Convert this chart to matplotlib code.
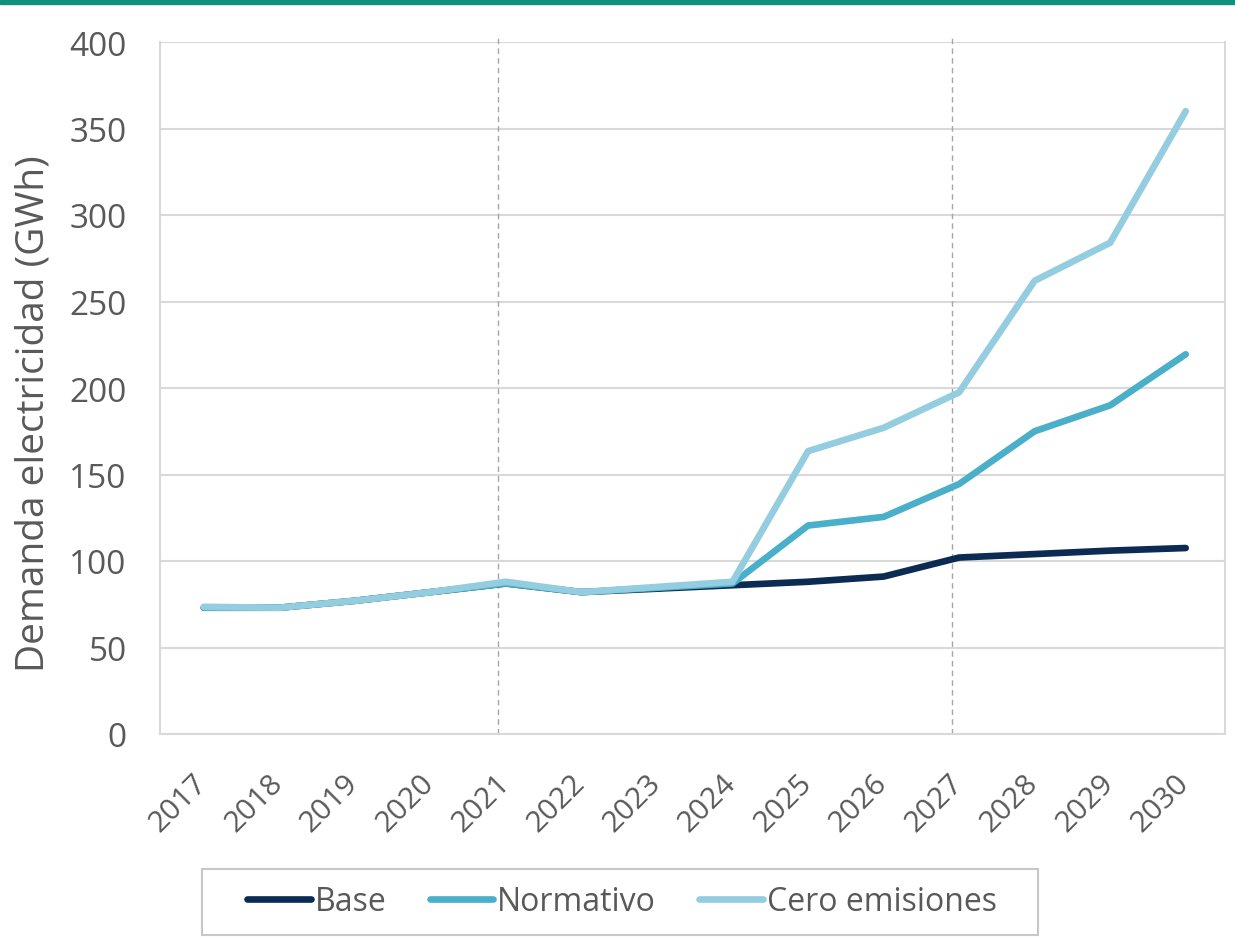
import matplotlib
matplotlib.use("Agg")
import matplotlib.pyplot as plt
from matplotlib.lines import Line2D
import matplotlib.transforms as mtransforms

years = ["2017", "2018", "2019", "2020", "2021", "2022", "2023",
         "2024", "2025", "2026", "2027", "2028", "2029", "2030"]
base = [73, 73, 77, 82, 87, 82, 84, 86, 88, 91, 102, 104, 106, 107.5]
normativo = [73, 73, 77, 82, 87, 82, 84.5, 87, 120.5, 125.5, 144.5, 175, 190, 219.5]
cero = [73.5, 73, 77, 82, 88, 82, 85, 88, 163.5, 177, 197.5, 262, 284, 360]
yticks = [0, 50, 100, 150, 200, 250, 300, 350, 400]
dashed_years = ["2021", "2027"]
labels = ["Base", "Normativo", "Cero emisiones"]

c_base = "#0B2B52"
c_norm = "#4AAFC8"
c_cero = "#93CDDF"
txt = "#595959"
LW = 4.8

plt.rcParams['font.family'] = ['Open Sans', 'DejaVu Sans']

fig = plt.figure(figsize=(12.35, 9.45), dpi=100)
fig.patches.append(plt.Rectangle((0, 1 - 5/945), 1, 5/945, transform=fig.transFigure,
                                 color="#108F7D", zorder=0))
ax = fig.add_axes([160/1235, 1 - 735/945, (1225-160)/1235, (735-43)/945])

x = list(range(len(years)))
for vals, col, z in [(base, c_base, 3), (normativo, c_norm, 4), (cero, c_cero, 5)]:
    ax.plot(x, vals, color=col, lw=LW, solid_capstyle='round',
            solid_joinstyle='round', zorder=z)

for dy in dashed_years:
    ax.axvline(years.index(dy) - 0.1, ymin=0, ymax=1.008, color="#A6A6A6", lw=1.0,
               ls=(0, (4, 3)), zorder=2, clip_on=False)

ax.set_xlim(-0.58, len(years) - 0.48)
ax.set_ylim(0, 400)
ax.set_yticks(yticks)
ax.set_xticks(x)
ax.set_xticklabels(years, rotation=45, ha='right', va='top', rotation_mode='anchor')
ax.yaxis.grid(True, color="#D9D9D9", lw=1.5)
ax.set_axisbelow(True)
ax.tick_params(axis='both', length=0, colors=txt)
ax.tick_params(axis='x', labelsize=21.5, pad=24.5)
ax.tick_params(axis='y', labelsize=24, pad=24)
for s in ['left', 'right', 'bottom']:
    ax.spines[s].set_color("#D9D9D9")
    ax.spines[s].set_linewidth(1.5)
ax.spines['top'].set_visible(False)
ax.set_ylabel("Demanda electricidad (GWh)", fontsize=28, color=txt)
ax.yaxis.set_label_coords(-0.1005, 0.465)

fig.patches.append(plt.Rectangle((202/1235, 1 - 936/945), (1038-202)/1235, (936-870)/945,
                                 transform=fig.transFigure, facecolor="white",
                                 edgecolor="#C8C8C8", lw=1.5, zorder=1))
handles = [Line2D([0], [0], color=c, lw=LW, solid_capstyle='round')
           for c in (c_base, c_norm, c_cero)]
leg = fig.legend(handles, labels, ncol=3,
                 loc='center', bbox_to_anchor=(622/1235, 1 - 903/945),
                 fontsize=23, frameon=False, handlelength=2.0,
                 handletextpad=0.12, columnspacing=1.35)
for t in leg.get_texts():
    t.set_color(txt)

# shift rotated year labels slightly left (after tick_params, which resets transforms)
shift = mtransforms.ScaledTranslation(-11/100, 0, fig.dpi_scale_trans)
for tick in ax.xaxis.get_major_ticks():
    tick.label1.set_transform(tick.label1.get_transform() + shift)

fig.savefig("out.png", dpi=100)
